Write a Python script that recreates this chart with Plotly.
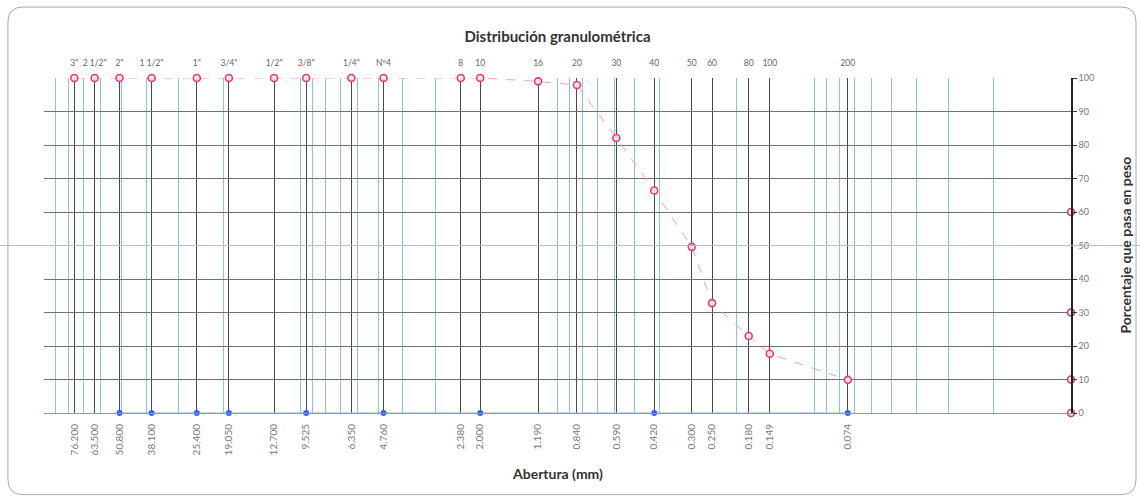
import numpy as np
import plotly.graph_objects as go

# Sieve series: names, openings (mm) and percent passing
sieve_names = ['3"', '2 1/2"', '2"', '1 1/2"', '1"', '3/4"', '1/2"', '3/8"', '1/4"', 'Nº4',
               '8', '10', '16', '20', '30', '40', '50', '60', '80', '100', '200']
openings = [76.2, 63.5, 50.8, 38.1, 25.4, 19.05, 12.7, 9.525, 6.35, 4.76,
            2.38, 2.0, 1.19, 0.84, 0.59, 0.42, 0.3, 0.25, 0.18, 0.149, 0.074]
passing = [100, 100, 100, 100, 100, 100, 100, 100, 100, 100,
           100, 100, 99.0, 97.9, 82.1, 66.4, 49.6, 32.8, 23.0, 17.7, 9.9]

# Reference sieves marked along the base line
ref_openings = [50.8, 38.1, 25.4, 19.05, 9.525, 4.76, 2.0, 0.42, 0.074]
ref_values = [0, 0, 0, 0, 0, 0, 0, 0, 0]

# Marks on the percentage axis
axis_marks_x = [0.01, 0.01, 0.01, 0.01]
axis_marks_y = [0, 10, 30, 60]

opening_labels = [f"{v:.3f}" for v in openings]

# log minor grid: 1..9 x each decade between 0.01 and 100 mm
minor_vals = [m * 10.0 ** e for e in range(-2, 2) for m in range(1, 10)] + [100.0]

FONT = "Lato, 'Noto Sans', sans-serif"
PINK = "#e23d7c"
BLUE = "#3568d8"
XRANGE = [np.log10(100), np.log10(0.01)]

fig = go.Figure()

fig.add_trace(go.Scatter(
    x=ref_openings, y=ref_values, mode="lines+markers",
    line=dict(color="#8fb4d8", width=1),
    marker=dict(color=BLUE, size=6),
    cliponaxis=False, showlegend=False,
))

# passing curve drawn against the sieve-number axis (top)
fig.add_trace(go.Scatter(
    x=openings, y=passing, mode="lines+markers", xaxis="x2",
    line=dict(color="#f0a0b8", width=1, dash="dash"),
    marker=dict(color="rgba(255,225,235,0.9)", size=7, symbol="circle",
                line=dict(color=PINK, width=1.6)),
    cliponaxis=False, showlegend=False,
))

fig.add_trace(go.Scatter(
    x=axis_marks_x, y=axis_marks_y, mode="markers",
    marker=dict(color="rgba(255,225,235,0.9)", size=7,
                line=dict(color="#c8406a", width=1.6)),
    cliponaxis=False, showlegend=False,
))

fig.update_layout(
    width=1140, height=499,
    margin=dict(l=44, r=69, t=78, b=86),
    paper_bgcolor="white", plot_bgcolor="white",
    font=dict(family=FONT, color="#555"),
    title=dict(text="<b>Distribución granulométrica</b>",
               x=557.5 / 1140, xanchor="center",
               y=1 - 37 / 499, yanchor="middle", yref="container",
               font=dict(size=15, color="#333", family=FONT)),
    xaxis=dict(
        type="log", range=XRANGE,
        tickmode="array", tickvals=openings, ticktext=opening_labels,
        tickangle=-90, tickfont=dict(size=10, color="#777"),
        ticks="outside", ticklen=6, tickcolor="rgba(0,0,0,0)",
        showgrid=True, gridcolor="#4a4a4a", gridwidth=1,
        minor=dict(tickmode="array", tickvals=minor_vals, showgrid=True,
                   gridcolor="#86c4e6", gridwidth=1, ticks=""),
        showline=True, linecolor="#8a9bb0", linewidth=1,
        zeroline=False,
    ),
    xaxis2=dict(
        type="log", range=XRANGE, overlaying="x", side="top",
        tickmode="array", tickvals=openings, ticktext=sieve_names,
        tickfont=dict(size=8.5, color="#666"),
        ticks="outside", ticklen=8, tickcolor="rgba(0,0,0,0)",
        showgrid=False, showline=False, zeroline=False,
    ),
    yaxis=dict(
        side="right", range=[0, 100], tickmode="linear", tick0=0, dtick=10,
        tickfont=dict(size=9, color="#777"),
        ticks="outside", ticklen=4, tickcolor="#333",
        showgrid=True, gridcolor="#707070", gridwidth=1,
        showline=True, linecolor="#222", linewidth=1.5,
        zeroline=False,
    ),
    shapes=[
        # 50 % passing reference line across the whole sheet
        dict(type="line", xref="paper", yref="y", x0=-0.05, x1=1.07, y0=50, y1=50,
             line=dict(color="#f4a3b8", width=1), layer="above"),
        # rounded frame around the chart
        dict(type="path", xref="paper", yref="paper",
             path=("M -0.0205,1.2118 L 1.0488,1.2118 Q 1.0633,1.2118 1.0633,1.167 "
                   "L 1.0633,-0.199 Q 1.0633,-0.2437 1.0488,-0.2437 "
                   "L -0.0205,-0.2437 Q -0.0351,-0.2437 -0.0351,-0.199 "
                   "L -0.0351,1.167 Q -0.0351,1.2118 -0.0205,1.2118 Z"),
             line=dict(color="#aaa", width=1), layer="below"),
    ],
    annotations=[
        dict(text="<b>Abertura (mm)</b>", xref="paper", yref="paper",
             x=0.5, y=-0.181, xanchor="center", yanchor="middle", showarrow=False,
             font=dict(size=14, color="#333", family=FONT)),
        dict(text="<b>Porcentaje que pasa en peso</b>", xref="paper", yref="paper",
             x=1.0526, y=0.5, xanchor="center", yanchor="middle", showarrow=False,
             textangle=-90, font=dict(size=14, color="#333", family=FONT)),
    ],
)

fig.write_html("out.html")
